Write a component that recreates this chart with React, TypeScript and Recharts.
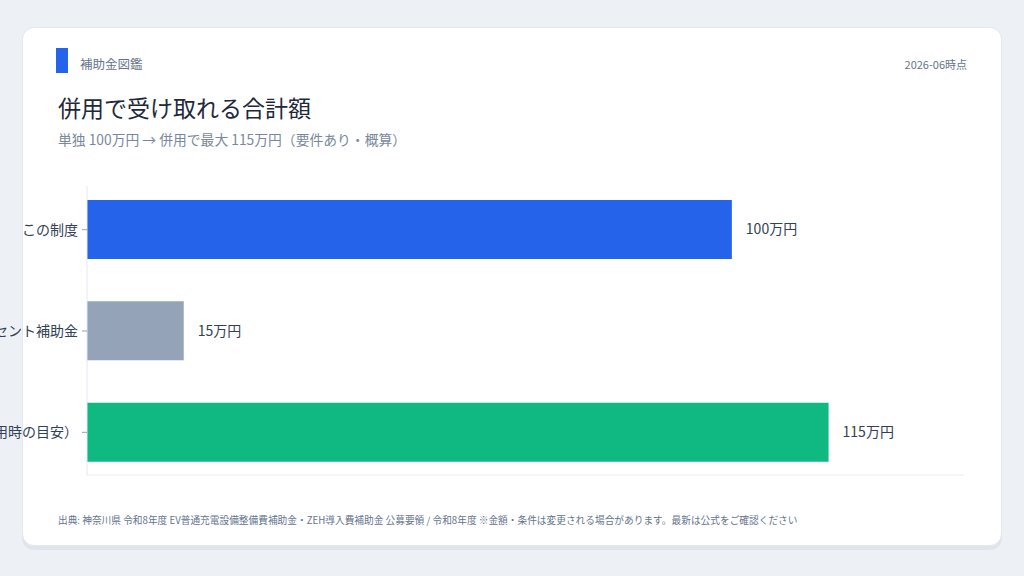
import { BarChart, Bar, XAxis, YAxis, Cell, LabelList } from 'recharts';

const categories = ['この制度', 'コンセント補助金', '合計（併用時の目安）'];
const amounts = [100, 15, 115];
const barColors = ['#2563eb', '#94a3b8', '#10b981'];

const FONT = '"Noto Sans CJK JP", "Noto Sans", sans-serif';

const chartData = categories.map((name, i) => ({ name, amount: amounts[i] }));

export default function App() {
  return (
    <div
      style={{
        position: 'absolute',
        left: 0,
        top: 0,
        width: 1024,
        height: 576,
        background: '#edf1f6',
        fontFamily: FONT,
        overflow: 'hidden'
      }}
    >
      <style>{'.recharts-surface { overflow: visible; }'}</style>
      <div
        style={{
          position: 'absolute',
          left: 22,
          top: 27,
          width: 978,
          height: 517,
          background: '#ffffff',
          border: '1px solid #e2e8f0',
          borderRadius: 12,
          boxShadow: '0 4px 0 #dfe5ed'
        }}
      />

      {/* header */}
      <div style={{ position: 'absolute', left: 56, top: 48, width: 12, height: 25, background: '#2563eb' }} />
      <div style={{ position: 'absolute', left: 80, top: 56, fontSize: 12.5, lineHeight: '16px', color: '#64748b' }}>
        補助金図鑑
      </div>
      <div
        style={{
          position: 'absolute',
          right: 57,
          top: 56,
          fontSize: 11,
          lineHeight: '16px',
          color: '#64748b'
        }}
      >
        2026-06時点
      </div>
      <div style={{ position: 'absolute', left: 58, top: 92, fontSize: 23, lineHeight: '30px', color: '#1e293b' }}>
        併用で受け取れる合計額
      </div>
      <div style={{ position: 'absolute', left: 58, top: 130, fontSize: 13.8, lineHeight: '18px', color: '#7a889c' }}>
        単独 100万円 → 併用で最大 115万円（要件あり・概算）
      </div>

      {/* chart */}
      <div style={{ position: 'absolute', left: 58, top: 166 }}>
        <BarChart
          width={906}
          height={320}
          data={chartData}
          layout="vertical"
          margin={{ top: 20, right: 0, bottom: 10, left: 0 }}
        >
          <XAxis
            type="number"
            domain={[0, 136]}
            tick={false}
            tickLine={false}
            height={1}
            axisLine={{ stroke: '#e8edf3' }}
          />
          <YAxis
            type="category"
            dataKey="name"
            width={29}
            padding={{ top: -7, bottom: -8 }}
            axisLine={{ stroke: '#e2e8f0' }}
            tickLine={{ stroke: '#94a3b8' }}
            tickSize={5}
            tickMargin={4}
            tick={{ fontSize: 14, fill: '#334155', fontFamily: FONT }}
          />
          <Bar dataKey="amount" barSize={59} isAnimationActive={false}>
            {chartData.map((d, i) => (
              <Cell key={d.name} fill={barColors[i]} />
            ))}
            <LabelList
              dataKey="amount"
              position="right"
              offset={14}
              formatter={(v: number) => `${v}万円`}
              style={{ fontSize: 14, fill: '#334155', fontFamily: FONT }}
            />
          </Bar>
        </BarChart>
      </div>

      {/* footer */}
      <div style={{ position: 'absolute', left: 58, top: 513, fontSize: 9.7, lineHeight: '14px', color: '#64748b' }}>
        出典: 神奈川県 令和8年度 EV普通充電設備整備費補助金・ZEH導入費補助金 公募要領 / 令和8年度
        ※金額・条件は変更される場合があります。最新は公式をご確認ください
      </div>
    </div>
  );
}
